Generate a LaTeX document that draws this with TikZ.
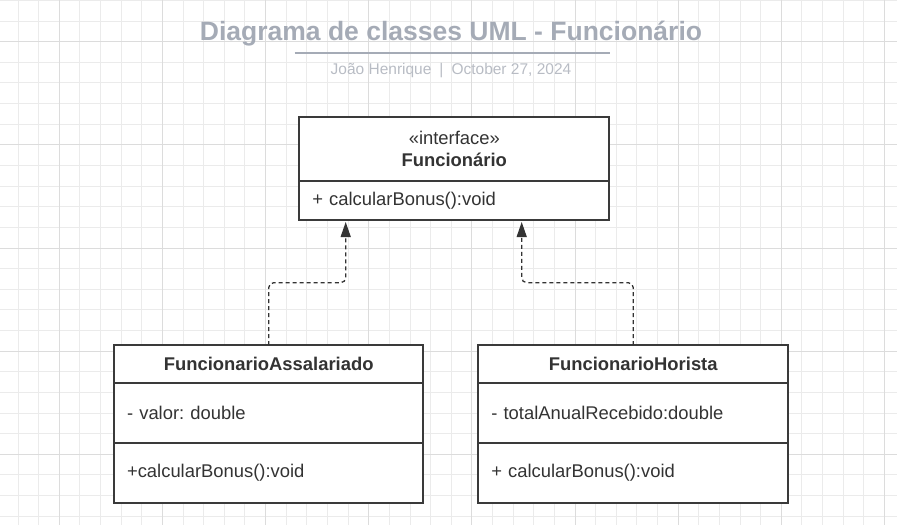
\documentclass[tikz,border=0pt]{standalone}
\usepackage{fontspec}
\setmainfont{Liberation Sans}
\usetikzlibrary{arrows.meta, positioning, calc}
\frenchspacing

\definecolor{gridminor}{HTML}{EBEBEB}
\definecolor{gridmajor}{HTML}{DCDCDC}
\definecolor{titlegrey}{HTML}{A5ABB6}
\definecolor{subgrey}{HTML}{B8BCC4}
\definecolor{umlink}{HTML}{3A3A3A}
\definecolor{umltext}{HTML}{333333}

\tikzset{
  umlpart/.style={draw=umlink, line width=2pt, fill=white, outer sep=0pt,
    text=umltext, font=\fontsize{18.4}{22}\selectfont},
  umlhead/.style={umlpart, align=center},
  umlrow/.style={umlpart, align=left, inner xsep=13pt},
  realize/.style={draw=umltext, line width=1.3pt, dash pattern=on 4pt off 3pt,
    rounded corners=5pt, -{Triangle[length=15pt, width=10pt]}}
}

\begin{document}
\begin{tikzpicture}[x=1pt, y=-1pt]
                                \useasboundingbox (0,0) rectangle (897,525);

                                % Draw the grid
                                \foreach \i in {0,...,43}
                                        \draw[gridminor, line width=1pt] ({18.04+20.63*\i},0) -- ++(0,525);
                                \foreach \j in {0,...,25}
                                        \draw[gridminor, line width=1pt] (0,{0.44+20.63*\j}) -- ++(897,0);
                                \foreach \i in {0,...,8}
                                        \draw[gridmajor, line width=1pt] ({59.3+103.15*\i},0) -- ++(0,525);
                                \foreach \j in {0,...,4}
                                        \draw[gridmajor, line width=1pt] (0,{41.7+103.15*\j}) -- ++(897,0);

                                % Title block
                                \node[anchor=base, text=titlegrey, font=\fontsize{26.5}{30}\selectfont\bfseries] (title) at (451,40.7) {Diagrama de classes UML - Funcionário};
                                \coordinate (ruleL) at (294.5,53.3);
                                \coordinate (ruleR) at (610,53.3);
                                \draw[titlegrey, line width=1.8pt] (ruleL) -- (ruleR);
                                \node[anchor=base, text=subgrey, font=\fontsize{15.5}{18}\selectfont] (author) at (451,74.3) {João Henrique\hspace{8pt}|\hspace{8pt}October 27, 2024};

                                % Define the classes
                                \node[umlhead, minimum width=310, minimum height=63.7, anchor=north] (iface) at (454.3,117.3) {«interface»\\\textbf{Funcionário}};
                                \node[umlrow, text width=284, minimum height=39, below=0pt of iface] (ifaceops) {+ calcularBonus():void};

                                \node[umlhead, minimum width=309.3, minimum height=37.7, anchor=north] (assal) at (268.7,345) {\textbf{FuncionarioAssalariado}};
                                \node[umlrow, text width=283.3, minimum height=60, below=0pt of assal] (assalattr) {- valor: double};
                                \node[umlrow, text width=283.3, minimum height=60, below=0pt of assalattr] (assalops) {+calcularBonus():void};

                                \node[umlhead, minimum width=310, minimum height=37.7, anchor=north] (horis) at (633.3,345) {\textbf{FuncionarioHorista}};
                                \node[umlrow, text width=284, minimum height=60, below=0pt of horis] (horisattr) {- totalAnualRecebido:double};
                                \node[umlrow, text width=284, minimum height=60, below=0pt of horisattr] (horisops) {+ calcularBonus():void};

                                % Draw the realizations
                                \coordinate (tipA) at (345.7,222);
                                \coordinate (tipB) at (521.7,222);
                                \draw[realize] (assal.north) -- ++(0,-62.3) -| (tipA);
                                \draw[realize] (horis.north) -- ++(0,-62.3) -| (tipB);
                        \end{tikzpicture}
\end{document}
